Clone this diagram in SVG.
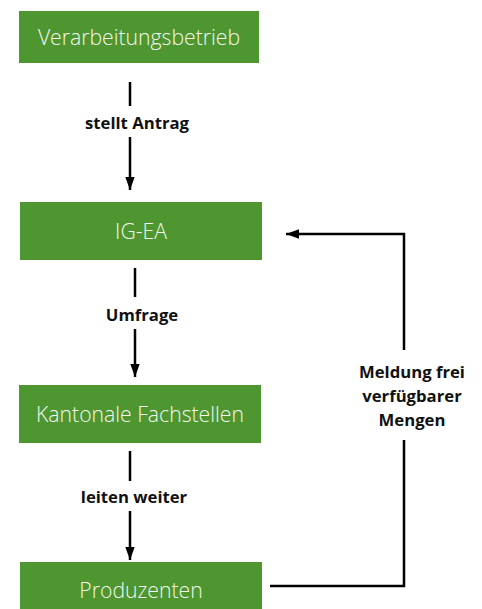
<svg xmlns="http://www.w3.org/2000/svg" width="482" height="609" viewBox="0 0 482 609">
<style>
.box{fill:#4E962F}
.nt{font-family:"Open Sans","Liberation Sans",sans-serif;font-weight:300;font-size:21.2px;fill:#F4F7F0;text-anchor:middle}
.lb{font-family:"Open Sans","Liberation Sans",sans-serif;font-weight:700;font-size:16.7px;fill:#111;text-anchor:middle}
.ln{stroke:#000;stroke-width:2.5;fill:none}
</style>
<defs>
<marker id="ah" markerWidth="13" markerHeight="18" refX="18" refY="6.5" viewBox="0 0 18 13" markerUnits="userSpaceOnUse" orient="auto">
<path d="M0,0 L18,6.5 L0,13 Z" fill="#000"/>
</marker>
</defs>
<rect width="482" height="609" fill="#fff"/>
<g id="n1"><rect class="box" x="19" y="11" width="240" height="52"/><text class="nt" x="139" y="44.5">Verarbeitungsbetrieb</text></g>
<g id="n2"><rect class="box" x="20" y="202" width="242" height="58"/><text class="nt" x="141" y="239">IG-EA</text></g>
<g id="n3"><rect class="box" x="19" y="385" width="242" height="58"/><text class="nt" x="140" y="422">Kantonale Fachstellen</text></g>
<g id="n4"><rect class="box" x="20" y="562" width="242" height="47"/><text class="nt" x="141" y="598">Produzenten</text></g>
<g id="connectors">
<line class="ln" x1="130" y1="82" x2="130" y2="106"/>
<line class="ln" x1="130" y1="137" x2="130" y2="190" marker-end="url(#ah)"/>
<text class="lb" x="137" y="129">stellt Antrag</text>
<line class="ln" x1="135" y1="268" x2="135" y2="297"/>
<line class="ln" x1="135" y1="329" x2="135" y2="377" marker-end="url(#ah)"/>
<text class="lb" x="142" y="321">Umfrage</text>
<line class="ln" x1="130" y1="451" x2="130" y2="481"/>
<line class="ln" x1="130" y1="511" x2="130" y2="560" marker-end="url(#ah)"/>
<text class="lb" x="134" y="503">leiten weiter</text>
<polyline class="ln" points="270,586 404,586 404,440"/>
<polyline class="ln" points="404,350 404,234 286,234" marker-end="url(#ah)"/>
<text class="lb" x="412" y="378">Meldung frei</text>
<text class="lb" x="412" y="402">verfügbarer</text>
<text class="lb" x="412" y="426">Mengen</text>
</g>
</svg>
